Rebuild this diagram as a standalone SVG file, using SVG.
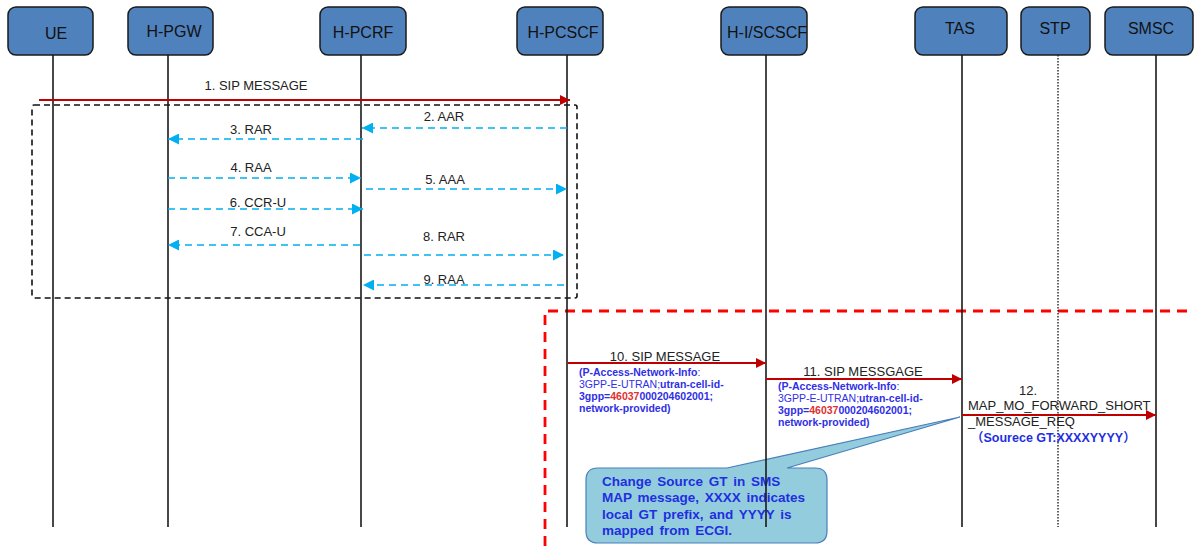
<svg xmlns="http://www.w3.org/2000/svg" width="1194" height="546" viewBox="0 0 1194 546">
<style>
.node rect{fill:#4F81BD;stroke:#1a1a1a;stroke-width:1.5}
.node text{font-family:"Liberation Sans",Arial,sans-serif;font-size:16px;fill:#111;text-anchor:middle}
.life{stroke:#1a1a1a;stroke-width:1.6;fill:none}
.lbl{font-family:"Liberation Sans",Arial,sans-serif;font-size:13px;fill:#222}
.mid{text-anchor:middle}
.red{stroke:#C00000;stroke-width:2;fill:none}
.blu{stroke:#00B0F0;stroke-width:1.6;fill:none;stroke-dasharray:7 5}
.info{font-family:"Liberation Sans",Arial,sans-serif;font-size:10.5px;fill:#2f2fe6}
.b{font-weight:bold}
.num{fill:#e03030;font-weight:bold}
.call{font-family:"Liberation Sans",Arial,sans-serif;font-size:13.5px;font-weight:bold;fill:#1f2fe0;word-spacing:2px}
</style>
<defs>
<marker id="ar" viewBox="0 0 10 10" refX="10" refY="5" markerWidth="11" markerHeight="10" markerUnits="userSpaceOnUse" orient="auto"><path d="M0,0 L10,5 L0,10 Z" fill="#C00000"/></marker>
<marker id="ab" viewBox="0 0 10 10" refX="10" refY="5" markerWidth="11" markerHeight="11" markerUnits="userSpaceOnUse" orient="auto"><path d="M0,0 L10,5 L0,10 Z" fill="#00B0F0"/></marker>
</defs>
<rect width="1194" height="546" fill="#fff"/>

<!-- frames -->
<rect x="32" y="105" width="545" height="193" rx="2" fill="none" stroke="#111" stroke-width="1.6" stroke-dasharray="6 4"/>
<path d="M545,546 L545,311 L1200,311" fill="none" stroke="#FF0000" stroke-width="2.8" stroke-dasharray="10 7"/>

<!-- callout -->
<g id="callout">
<path d="M598,468 L727,468 L960,417 L787,468 L815,468 Q827,468 827,480 L827,531 Q827,543 815,543 L598,543 Q586,543 586,531 L586,480 Q586,468 598,468 Z" fill="#93CDDD" stroke="#4A7EBB" stroke-width="1.2"/>
<text class="call" x="602" y="486">Change Source GT in SMS</text>
<text class="call" x="602" y="502">MAP message, XXXX indicates</text>
<text class="call" x="602" y="519">local GT prefix, and YYYY  is</text>
<text class="call" x="602" y="535">mapped from ECGI.</text>
</g>

<!-- nodes -->
<g id="UE" class="node"><rect x="8" y="7" width="85" height="48" rx="8"/><text x="56" y="39">UE</text><line class="life" x1="53" y1="55" x2="53" y2="527"/></g>
<g id="H-PGW" class="node"><rect x="128" y="7" width="85" height="48" rx="8"/><text x="174" y="37">H-PGW</text><line class="life" x1="168" y1="55" x2="168" y2="527"/></g>
<g id="H-PCRF" class="node"><rect x="320" y="7" width="86" height="48" rx="8"/><text x="363" y="38">H-PCRF</text><line class="life" x1="361" y1="55" x2="361" y2="527"/></g>
<g id="H-PCSCF" class="node"><rect x="517" y="7" width="86" height="48" rx="8"/><text x="563" y="38">H-PCSCF</text><line class="life" x1="567" y1="55" x2="567" y2="527"/></g>
<g id="H-ISCSCF" class="node"><rect x="721" y="7" width="86" height="48" rx="8"/><text x="767" y="38">H-I/SCSCF</text><line class="life" x1="766" y1="55" x2="766" y2="527"/></g>
<g id="TAS" class="node"><rect x="915" y="7" width="92" height="48" rx="8"/><text x="960" y="34">TAS</text><line class="life" x1="962" y1="55" x2="962" y2="527"/></g>
<g id="STP" class="node"><rect x="1021" y="7" width="69" height="48" rx="8"/><text x="1055" y="34">STP</text><line x1="1058" y1="55" x2="1058" y2="527" stroke="#222" stroke-width="1.4" stroke-dasharray="1.5 1.5"/></g>
<g id="SMSC" class="node"><rect x="1105" y="7" width="88" height="48" rx="8"/><text x="1151" y="34">SMSC</text><line class="life" x1="1156" y1="55" x2="1156" y2="527"/></g>

<!-- connectors -->
<g id="connectors">
<line class="red" x1="39" y1="100" x2="570" y2="100" marker-end="url(#ar)"/>
<text class="lbl mid" x="256" y="90">1. SIP MESSAGE</text>

<line class="blu" x1="567" y1="128" x2="362" y2="128" marker-end="url(#ab)"/>
<text class="lbl mid" x="444" y="121">2. AAR</text>
<line class="blu" x1="363" y1="139" x2="168" y2="139" marker-end="url(#ab)"/>
<text class="lbl mid" x="251" y="134">3. RAR</text>
<line class="blu" x1="168" y1="178" x2="361" y2="178" marker-end="url(#ab)"/>
<text class="lbl mid" x="251" y="172">4. RAA</text>
<line class="blu" x1="366" y1="189" x2="567" y2="189" marker-end="url(#ab)"/>
<text class="lbl mid" x="445" y="184">5. AAA</text>
<line class="blu" x1="168" y1="209" x2="363" y2="209" marker-end="url(#ab)"/>
<text class="lbl mid" x="258" y="207">6. CCR-U</text>
<line class="blu" x1="360" y1="245" x2="168" y2="245" marker-end="url(#ab)"/>
<text class="lbl mid" x="258" y="236">7. CCA-U</text>
<line class="blu" x1="364" y1="255" x2="564" y2="255" marker-end="url(#ab)"/>
<text class="lbl mid" x="444" y="241">8. RAR</text>
<line class="blu" x1="564" y1="285" x2="363" y2="285" marker-end="url(#ab)"/>
<text class="lbl mid" x="444" y="284">9. RAA</text>

<line class="red" x1="568" y1="363" x2="766" y2="363" marker-end="url(#ar)"/>
<text class="lbl mid" x="665" y="361">10. SIP MESSAGE</text>
<text class="info" x="579" y="376"><tspan class="b">(P-Access-Network-Info</tspan>:</text>
<text class="info" x="579" y="388">3GPP-E-UTRAN;<tspan class="b">utran-cell-id-</tspan></text>
<text class="info b" x="579" y="400">3gpp=<tspan class="num">46037</tspan>000204602001;</text>
<text class="info b" x="579" y="412">network-provided)</text>

<line class="red" x1="766" y1="379" x2="962" y2="379" marker-end="url(#ar)"/>
<text class="lbl mid" x="863" y="376">11. SIP MESSGAGE</text>
<text class="info" x="778" y="390"><tspan class="b">(P-Access-Network-Info</tspan>:</text>
<text class="info" x="778" y="402">3GPP-E-UTRAN;<tspan class="b">utran-cell-id-</tspan></text>
<text class="info b" x="778" y="414">3gpp=<tspan class="num">46037</tspan>000204602001;</text>
<text class="info b" x="778" y="426">network-provided)</text>

<line class="red" x1="962" y1="415" x2="1156" y2="415" marker-end="url(#ar)"/>
<text class="lbl mid" x="1028" y="395">12.</text>
<text class="lbl" x="968" y="410">MAP_MO_FORWARD_SHORT</text>
<text class="lbl" x="968" y="426">_MESSAGE_REQ</text>
<text x="971" y="442" font-family="'Liberation Sans','Noto Sans CJK SC',sans-serif" font-size="12.5" font-weight="bold" fill="#1f2fe0">（Sourece GT:XXXXYYYY）</text>
</g>
</svg>
